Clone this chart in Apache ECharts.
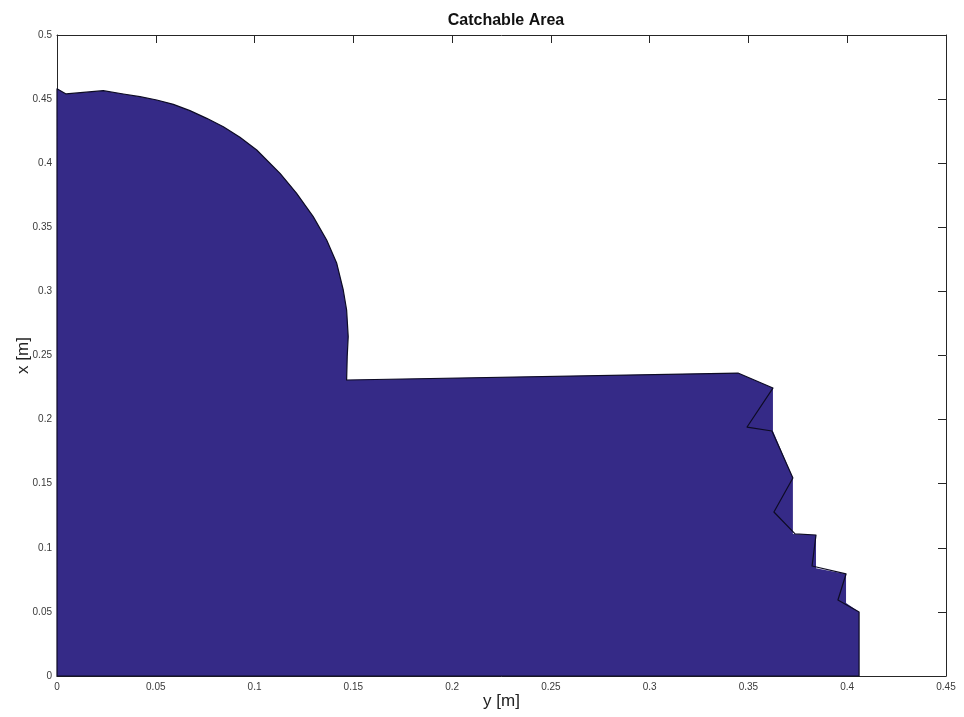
<!DOCTYPE html>
<html>
<head>
<meta charset="utf-8">
<title>Catchable Area</title>
<script src="https://cdn.jsdelivr.net/npm/echarts@6/dist/echarts.min.js"></script>
<style>
  html, body { margin: 0; padding: 0; background: #ffffff; }
  #chart { width: 964px; height: 717px; }
</style>
</head>
<body>
<div id="chart"></div>
<script>
// Boundary of the catchable region (horizontal: y [m], vertical: x [m])
const boundaryY = [
  0, 0, 0.0046, 0.0234, 0.0336, 0.0420, 0.0505, 0.0589, 0.0673, 0.0758,
  0.0842, 0.0926, 0.1011, 0.1129, 0.1213, 0.1297, 0.1365, 0.1416, 0.1449,
  0.1466, 0.1474, 0.1469, 0.1466,
  0.3447, 0.3624, 0.3493, 0.3619, 0.3725, 0.3629, 0.3736, 0.3842,
  0.3822, 0.3994, 0.3953, 0.4060, 0.4060
];
const boundaryX = [
  0, 0.458, 0.454, 0.4566, 0.4540, 0.4519, 0.4493, 0.4459, 0.4410, 0.4350,
  0.4285, 0.4202, 0.4103, 0.3921, 0.3765, 0.3583, 0.3401, 0.3219, 0.3011,
  0.2855, 0.2647, 0.2491, 0.2309,
  0.2363, 0.2246, 0.1942, 0.1911, 0.1544, 0.1279, 0.1108, 0.1100,
  0.0858, 0.0796, 0.0593, 0.0499, 0
];

// Filled patch: same outline, with the notches on the right filled in
const notchFillY = [0.3624, 0.3624, 0.3725, 0.3725, 0.3842, 0.3842, 0.3994, 0.3994, 0.4060, 0.4060];
const notchFillX = [0.2246, 0.1911, 0.1544, 0.1108, 0.1100, 0.0840, 0.0796, 0.0570, 0.0499, 0];

// The patch shares the left part of the outline up to the corner at y = 0.3447
const sharedCount = boundaryY.indexOf(0.3447) + 1;
const fillY = boundaryY.slice(0, sharedCount).concat(notchFillY);
const fillX = boundaryX.slice(0, sharedCount).concat(notchFillX);

const chart = echarts.init(document.getElementById('chart'), null, { renderer: 'canvas' });

const frameColor = '#262626';
const fontFamily = 'Liberation Sans, Arial, sans-serif';
const labelStyle = { color: '#3a3a3a', fontSize: 10, fontFamily: fontFamily };
const tickText = v => String(+v.toFixed(2));

function axisCommon(extra) {
  return Object.assign({
    type: 'value',
    splitLine: { show: false },
    axisLine: { show: true, onZero: false, lineStyle: { color: frameColor, width: 1 } },
    axisTick: { show: true, inside: true, length: 8, lineStyle: { color: frameColor, width: 1 } }
  }, extra);
}

chart.setOption({
  animation: false,
  backgroundColor: '#ffffff',
  title: {
    text: 'Catchable Area',
    left: 501,
    top: 8,
    textAlign: 'center',
    textStyle: { fontSize: 16, fontWeight: 'bold', color: '#111', fontFamily: fontFamily }
  },
  grid: { left: 57, right: 18, top: 35, bottom: 41, containLabel: false, outerBoundsMode: 'none' },
  xAxis: [
    axisCommon({
      min: 0, max: 0.45, interval: 0.05, position: 'bottom',
      name: 'y [m]', nameLocation: 'middle', nameGap: 17, nameMoveOverlap: false,
      nameTextStyle: { fontSize: 17, color: '#222', fontFamily: fontFamily },
      axisLabel: Object.assign({ margin: 6, formatter: tickText }, labelStyle)
    }),
    axisCommon({ min: 0, max: 0.45, interval: 0.05, position: 'top', axisLabel: { show: false } })
  ],
  yAxis: [
    axisCommon({
      min: 0, max: 0.5, interval: 0.05, position: 'left',
      name: 'x [m]', nameLocation: 'middle', nameGap: 25, nameMoveOverlap: false,
      nameTextStyle: { fontSize: 17, color: '#222', fontFamily: fontFamily },
      axisLabel: Object.assign({ margin: 5, formatter: tickText }, labelStyle)
    }),
    axisCommon({ min: 0, max: 0.5, interval: 0.05, position: 'right', axisLabel: { show: false } })
  ],
  series: [
    {
      type: 'custom',
      xAxisIndex: 0,
      yAxisIndex: 0,
      silent: true,
      data: [[0, 0]],
      renderItem: function (params, api) {
        const fillPts = fillY.map((h, i) => api.coord([h, fillX[i]]));
        const edgePts = boundaryY.map((h, i) => api.coord([h, boundaryX[i]]));
        return {
          type: 'group',
          children: [
            { type: 'polygon', shape: { points: fillPts }, style: { fill: '#352a87', stroke: null } },
            { type: 'polygon', shape: { points: edgePts }, style: { fill: 'none', stroke: '#0d0b24', lineWidth: 1.2, lineJoin: 'round' } }
          ]
        };
      }
    }
  ]
});
</script>
</body>
</html>
